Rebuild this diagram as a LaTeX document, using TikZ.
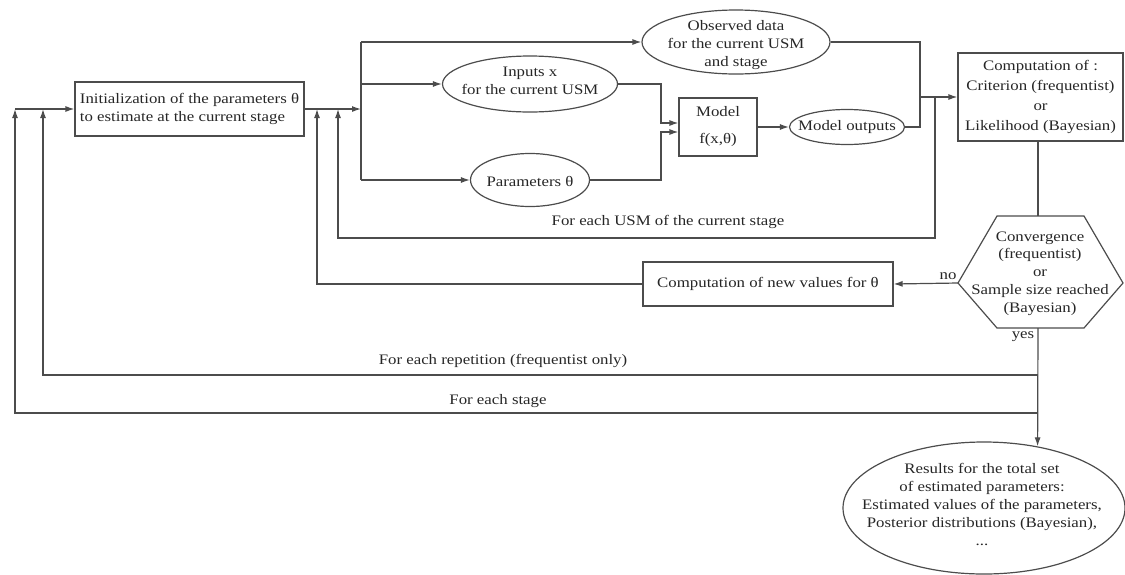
\documentclass[tikz,border=0pt]{standalone}
\usepackage{fontspec}
\setmainfont[FakeStretch=1.16]{Liberation Serif}
\usetikzlibrary{arrows.meta,shapes.geometric}
\begin{document}
\begin{tikzpicture}[x=1pt,y=-1pt,
  every node/.style={font=\fontsize{14.5}{18}\selectfont, text=black!85, inner sep=0pt},
  line/.style={draw=black!70, line width=1.2pt},
  arr/.style={line, -{Latex[length=9pt,width=6pt]}},
  box/.style={draw=black!70, line width=1.2pt, rectangle, align=center},
  oval/.style={draw=black!70, line width=1.2pt, ellipse},
  txt/.style={align=center},
]
\useasboundingbox (0,0) rectangle (1125,574);

% nodes
\node[box, align=left, minimum width=229, minimum height=54] (init) at (189.5,109)
  {Initialization of the parameters θ\\to estimate at the current stage};
\node[oval, minimum width=188, minimum height=64] (obs) at (736,42) {};
\node[txt] (obst) at (736,45) {Observed data\\for the current USM\\and stage};
\node[oval, minimum width=175, minimum height=56] (inputs) at (530,84) {};
\node[txt] (inputst) at (530,81) {Inputs x\\for the current USM};
\node[oval, minimum width=119, minimum height=53] (params) at (530,180) {};
\node[txt] (paramst) at (530,181) {Parameters θ};
\node[box, minimum width=78, minimum height=58, font=\fontsize{14.5}{27}\selectfont] (model) at (718,127) {Model\\f(x,θ)};
\node[oval, minimum width=115, minimum height=35] (outputs) at (847,127) {};
\node[txt] (outputst) at (847,127) {Model outputs};
\node[box, minimum width=165, minimum height=88, font=\fontsize{14.5}{20}\selectfont] (comp) at (1040.5,97)
  {Computation of :\\Criterion (frequentist)\\or\\Likelihood (Bayesian)};
\node[box, minimum width=250, minimum height=44] (newvals) at (768,284) {Computation of new values for θ};
\node[txt, font=\fontsize{14.5}{17.75}\selectfont] (conv) at (1040,273.5)
  {Convergence\\(frequentist)\\or\\Sample size reached\\(Bayesian)};
\node[oval, minimum width=282, minimum height=132] (results) at (984,508) {};
\node[txt] (resultst) at (982,504) {Results for the total set\\of estimated parameters:\\Estimated values of the parameters,\\Posterior distributions (Bayesian),\\...};

% hexagon around conv
\coordinate (hexN) at (1038,216);
\coordinate (hexS) at (1038,328);
\coordinate (hexW) at (958,283);
\draw[line] (997,216) -- (1084,216) -- (1123,283) -- (1084,328) -- (997,328) -- (hexW) -- cycle;

% junction coordinates
\coordinate (j0) at (15,109);
\coordinate (j1) at (43,109);
\coordinate (j2) at (317,109);
\coordinate (j3) at (338,109);
\coordinate (br) at (361,109);
\coordinate (brT) at (361,42);
\coordinate (brB) at (361,180);
\coordinate (k1) at (661,123);
\coordinate (k2) at (661,132);
\coordinate (m) at (920,97);
\coordinate (u) at (935,97);
\coordinate (uB) at (935,238);
\coordinate (r) at (1038,375);
\coordinate (s) at (1038,413);

% connectors
\draw[arr] (j0) -- (init.west);
\draw[arr] (init.east) -- (br);
\draw[line] (brT) -- (brB);
\draw[arr] (brT) -- (obs.west);
\draw[arr] (br |- inputs.west) -- (inputs.west);
\draw[arr] (brB) -- (params.west);
\draw[arr] (inputs.east) -| (k1) -- (k1 -| model.west);
\draw[arr] (params.east) -| (k2) -- (k2 -| model.west);
\draw[arr] (model.east) -- (outputs.west);
\draw[line] (obs.east) -| (m);
\draw[line] (outputs.east) -| (m);
\draw[arr] (m) -- (m -| comp.west);
\draw[arr] (u) -- (uB) -| (j3);
\node (usm) at (668,222) {For each USM of the current stage};
\draw[line] (hexN |- comp.south) -- (hexN);
\draw[arr] (hexW) -- (newvals.east);
\node (no) at (948,276) {no};
\draw[arr] (newvals.west) -| (j2);
\draw[arr] (hexS) -- (results.49);
\node (yes) at (1023,337) {yes};
\draw[arr] (r) -| (j1);
\node (rep) at (503,361) {For each repetition (frequentist only)};
\draw[arr] (s) -| (j0);
\node (stage) at (498,401) {For each stage};
\end{tikzpicture}
\end{document}
